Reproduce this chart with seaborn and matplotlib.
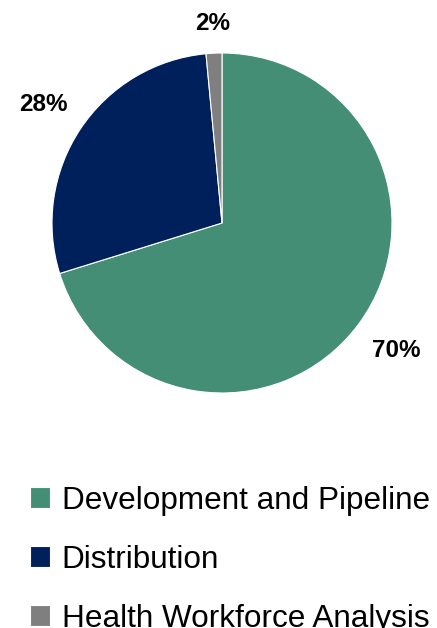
import numpy as np
import matplotlib
matplotlib.use("Agg")
import matplotlib.pyplot as plt
import seaborn as sns

categories = ["Development and Pipeline", "Distribution", "Health Workforce Analysis"]
values = [70.2, 28.3, 1.5]
pct_labels = ["70%", "28%", "2%"]
colors = ["#458E76", "#00205B", "#7F7F7F"]

sns.set_theme(style="white")
plt.rcParams['font.family'] = ['Liberation Sans', 'DejaVu Sans']

fig = plt.figure(figsize=(4.37, 6.28), dpi=100)
ax = fig.add_axes([52/437, (628-223-170)/628, 340/437, 340/628])

wedges, _ = ax.pie(values, colors=colors, startangle=90, counterclock=False,
                   radius=1.0, wedgeprops=dict(edgecolor="white", linewidth=0.8))
ax.set_xlim(-1, 1)
ax.set_ylim(-1, 1)
ax.set_aspect("equal")
ax.axis("off")

dists = [1.27, 1.26, 1.175]
for w, lab, d in zip(wedges, pct_labels, dists):
    ang = np.deg2rad((w.theta1 + w.theta2) / 2)
    ax.text(d*np.cos(ang), d*np.sin(ang), lab, ha="center", va="center",
            fontsize=17.5, fontweight="bold", color="black", clip_on=False)

leg = fig.legend(wedges, categories, loc="upper left", bbox_to_anchor=(30/437, 1 - 486/628),
                 frameon=False, fontsize=22.7, handlelength=0.65, handleheight=0.65,
                 handletextpad=0.35, labelspacing=0.92, borderaxespad=0, borderpad=0)
for t in leg.get_texts():
    t.set_color("black")

fig.savefig("out.png", dpi=100)
